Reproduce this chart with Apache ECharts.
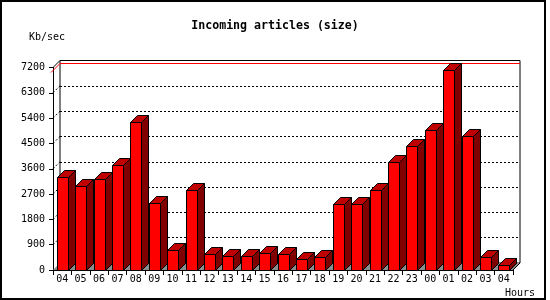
<!DOCTYPE html>
<html>
<head>
<meta charset="utf-8">
<script src="https://cdn.jsdelivr.net/npm/echarts@6/dist/echarts.min.js"></script>
<style>
  html, body { margin: 0; padding: 0; background: #fff; }
  #chart { width: 550px; height: 300px; }
</style>
</head>
<body>
<div id="chart"></div>
<script>
const hours = ["04", "05", "06", "07", "08", "09", "10", "11", "12", "13", "14", "15",
  "16", "17", "18", "19", "20", "21", "22", "23", "00", "01", "02", "03", "04"];
const sizeKb = [3300, 3000, 3220, 3750, 5250, 2400, 700, 2830, 560, 510, 510, 590,
  560, 380, 450, 2340, 2340, 2830, 3830, 4410, 4970, 7100, 4765, 450, 170];
const yTicks = [0, 900, 1800, 2700, 3600, 4500, 5400, 6300, 7200];

// 3d look: depth of the box and the bars
const DX = 7, DY = 7, BAR_W = 11;
const FONT = "'DejaVu Sans Mono', monospace";
const peak = Math.max(...sizeKb);
const yMax = yTicks[yTicks.length - 1];
const yStep = yTicks[1] - yTicks[0];

const chart = echarts.init(document.getElementById("chart"));

// floor, side wall ticks, max line
const renderWalls = (params, api) => {
  if (params.dataIndex !== 0) return null;
  const cs = params.coordSys;
  const x0 = cs.x, x1 = cs.x + cs.width, yb = cs.y + cs.height;
  const children = [
    {
      type: "polygon",
      shape: { points: [[x0, yb], [x1, yb], [x1 + DX, yb - DY], [x0 + DX, yb - DY]] },
      style: { fill: "#8c8c8c" }
    },
    {
      type: "line",
      shape: { x1: x1, y1: yb, x2: x1 + DX, y2: yb - DY },
      style: { stroke: "#000", lineWidth: 1 }
    }
  ];
  yTicks.forEach((t) => {
    if (t === 0) return;
    const y = api.coord([0, t])[1];
    children.push({
      type: "line",
      shape: { x1: x0, y1: y, x2: x0 + DX, y2: y - DY },
      style: { stroke: "#000", lineWidth: 1, lineDash: t === yMax ? null : [2, 2] }
    });
  });
  const yp = Math.round(api.coord([0, peak])[1]) + 0.5;
  children.push({
    type: "polyline",
    shape: { points: [[x0 - 2, yp + 2], [x0 + DX, yp - DY], [x1 + DX, yp - DY]] },
    style: { stroke: "#ff0000", lineWidth: 1, fill: null }
  });
  return { type: "group", children };
};

const renderBar = (params, api) => {
  const top = api.coord([api.value(0), api.value(1)]);
  const base = api.coord([api.value(0), 0]);
  const l = Math.round(top[0] - BAR_W / 2) + 0.5;
  const r = l + BAR_W;
  const t = Math.round(top[1]) + 0.5;
  const b = Math.round(base[1]) + 0.5;
  return {
    type: "group",
    children: [
      {
        type: "polygon",
        shape: { points: [[r, b], [r + DX, b - DY], [r + DX, t - DY], [r, t]] },
        style: { fill: "#800000", stroke: "#000", lineWidth: 1 }
      },
      {
        type: "polygon",
        shape: { points: [[l, t], [l + DX, t - DY], [r + DX, t - DY], [r, t]] },
        style: { fill: "#c00000", stroke: "#000", lineWidth: 1 }
      },
      {
        type: "rect",
        shape: { x: l, y: t, width: BAR_W, height: b - t },
        style: { fill: "#ff0000", stroke: "#000", lineWidth: 1 }
      }
    ]
  };
};

chart.setOption({
  backgroundColor: "#fff",
  animation: false,
  grid: [
    { left: 53, top: 67.5, width: 460, height: 202.5 },
    {
      left: 60, top: 60.5, width: 460, height: 202.5,
      show: true, borderColor: "#000", borderWidth: 1, backgroundColor: "transparent"
    }
  ],
  xAxis: [
    {
      type: "category",
      gridIndex: 0,
      data: hours,
      boundaryGap: true,
      axisLine: { show: true, lineStyle: { color: "#000", width: 1 } },
      axisTick: { show: true, length: 5, lineStyle: { color: "#000" } },
      axisLabel: { color: "#000", fontFamily: FONT, fontSize: 10, margin: 4, interval: 0 },
      splitLine: { show: false }
    },
    {
      type: "category",
      gridIndex: 1,
      data: hours,
      show: false
    }
  ],
  yAxis: [
    {
      type: "value",
      gridIndex: 0,
      min: 0,
      max: yMax,
      interval: yStep,
      axisLine: { show: true, lineStyle: { color: "#000", width: 1 } },
      axisTick: { show: true, length: 4, lineStyle: { color: "#000" } },
      axisLabel: {
        color: "#000", fontFamily: FONT, fontSize: 10, margin: 8,
        formatter: (v) => String(v)
      },
      splitLine: { show: false }
    },
    {
      type: "value",
      gridIndex: 1,
      min: 0,
      max: yMax,
      interval: yStep,
      axisLine: { show: false },
      axisTick: { show: false },
      axisLabel: { show: false },
      splitLine: { show: true, lineStyle: { color: "#000", width: 1, type: [2, 2] } }
    }
  ],
  series: [
    {
      type: "custom",
      xAxisIndex: 0,
      yAxisIndex: 0,
      z: 2,
      silent: true,
      renderItem: renderWalls,
      data: [[0, 0]]
    },
    {
      type: "custom",
      name: "Incoming articles (size)",
      xAxisIndex: 0,
      yAxisIndex: 0,
      z: 3,
      renderItem: renderBar,
      encode: { x: 0, y: 1 },
      data: sizeKb.map((v, i) => [i, v])
    }
  ],
  graphic: [
    {
      type: "rect",
      shape: { x: 1, y: 1, width: 544, height: 298 },
      style: { fill: null, stroke: "#000", lineWidth: 2 },
      silent: true
    },
    {
      type: "text",
      x: 275, y: 26,
      style: {
        text: "Incoming articles (size)",
        font: "bold 11.6px " + FONT,
        fill: "#000",
        textAlign: "center",
        textVerticalAlign: "middle"
      }
    },
    {
      type: "text",
      x: 29, y: 37,
      style: {
        text: "Kb/sec",
        font: "10px " + FONT,
        fill: "#000",
        textAlign: "left",
        textVerticalAlign: "middle"
      }
    },
    {
      type: "text",
      x: 505, y: 293,
      style: {
        text: "Hours",
        font: "10px " + FONT,
        fill: "#000",
        textAlign: "left",
        textVerticalAlign: "middle"
      }
    }
  ]
});

window.addEventListener("resize", () => chart.resize());
</script>
</body>
</html>
